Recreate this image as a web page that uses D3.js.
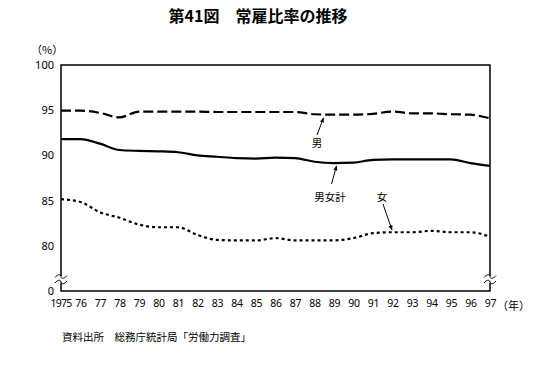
<!DOCTYPE html>
<html>
<head>
<meta charset="utf-8">
<script src="https://cdn.jsdelivr.net/npm/d3@7"></script>
<style>
  html, body { margin: 0; padding: 0; background: #fff; }
  svg { display: block; }
  text { font-family: "Noto Sans CJK JP", "Noto Sans", sans-serif; fill: #000; }
</style>
</head>
<body>
<svg id="chart" width="555" height="370"></svg>
<script>
const years = [1975,1976,1977,1978,1979,1980,1981,1982,1983,1984,1985,1986,1987,1988,1989,1990,1991,1992,1993,1994,1995,1996,1997];
const male   = [94.95,94.95,94.7,94.2,94.85,94.85,94.85,94.85,94.8,94.8,94.8,94.8,94.8,94.55,94.5,94.5,94.6,94.85,94.65,94.65,94.55,94.5,94.1];
const total  = [91.8,91.8,91.3,90.6,90.5,90.45,90.35,90.0,89.85,89.7,89.65,89.75,89.7,89.3,89.15,89.2,89.5,89.55,89.55,89.55,89.55,89.15,88.85];
const female = [85.15,84.85,83.7,83.1,82.35,82.05,82.05,81.2,80.65,80.6,80.6,80.85,80.6,80.6,80.6,80.85,81.4,81.5,81.5,81.65,81.5,81.5,81.0];
const yTicks = [75,80,85,90,95,100];
const yTickLabels = ["0","80","85","90","95","100"];
const seriesNames = ["男","男女計","女"];

const svg = d3.select("#chart");
const L = 61, R = 490, T = 65, B = 291;

const x = d3.scaleLinear().domain([1975,1997]).range([L,R]);
const y = d3.scaleLinear().domain([75,100]).range([B,T]);

// title
svg.append("text").attr("x",258).attr("y",22).attr("text-anchor","middle")
  .style("font-size","16px").style("font-weight","bold").text("第41図　常雇比率の推移");

svg.append("text").attr("x",31).attr("y",54).style("font-size","11px").text("（%）");

// axes
const yAxis = d3.axisLeft(y).tickValues(yTicks).tickSize(0).tickPadding(7)
  .tickFormat((d,i)=>yTickLabels[i]);
const gy = svg.append("g").attr("transform",`translate(${L},0)`).call(yAxis);
gy.select(".domain").remove();
gy.selectAll("text").style("font-size","11px").style("font-family","'Noto Sans', sans-serif");

const xAxis = d3.axisBottom(x).tickValues(years).tickSize(0).tickPadding(9)
  .tickFormat(d => d===1975 ? "1975" : String(d).slice(2));
const gx = svg.append("g").attr("transform",`translate(0,${B})`).call(xAxis);
gx.select(".domain").remove();
gx.selectAll("text").style("font-size","10.5px").style("font-family","'Noto Sans', sans-serif")
  .style("letter-spacing","-0.3px");
gx.selectAll(".tick").filter(d=>d===1975).select("text").attr("dx",-0.5).style("letter-spacing","-0.7px");

svg.append("text").attr("x",497).attr("y",310).style("font-size","11px").text("（年）");

// frame
svg.append("rect").attr("x",L).attr("y",T).attr("width",R-L).attr("height",B-T)
  .attr("fill","none").attr("stroke","#000").attr("stroke-width",1.5);

// lines
const line = d3.line().x((d,i)=>x(years[i])).y(d=>y(d)).curve(d3.curveMonotoneX);
svg.append("path").datum(male).attr("d",line).attr("fill","none").attr("stroke","#000")
  .attr("stroke-width",2.2).attr("stroke-dasharray","10,4");
svg.append("path").datum(total).attr("d",line).attr("fill","none").attr("stroke","#000")
  .attr("stroke-width",2.2);
svg.append("path").datum(female).attr("d",line).attr("fill","none").attr("stroke","#000")
  .attr("stroke-width",2.2).attr("stroke-dasharray","3,3");

// axis breaks
[L,R].forEach(ax=>{
  svg.append("rect").attr("x",ax-2).attr("y",276).attr("width",4).attr("height",7).attr("fill","#fff");
  [276.5,282].forEach(yy=>{
    svg.append("path")
      .attr("d",`M${ax-6},${yy+1} C${ax-3},${yy-3} ${ax},${yy-2} ${ax},${yy} S${ax+3},${yy+3} ${ax+6},${yy-1}`)
      .attr("fill","none").attr("stroke","#000").attr("stroke-width",1);
  });
});

// annotations
const defs = svg.append("defs");
defs.append("marker").attr("id","ah").attr("viewBox","0 0 10 10").attr("refX",9).attr("refY",5)
  .attr("markerWidth",5).attr("markerHeight",6).attr("orient","auto")
  .append("path").attr("d","M0,1 L10,5 L0,9 Z").attr("fill","#000");

const ann = [
  {t:seriesNames[0], tx:317, ty:147, x1:317, y1:135, x2:323.5, y2:118},
  {t:seriesNames[1], tx:330, ty:201, x1:331.5, y1:184, x2:336.5, y2:166},
  {t:seriesNames[2], tx:382, ty:201, x1:383, y1:204, x2:392, y2:230}
];
ann.forEach(a=>{
  svg.append("line").attr("x1",a.x1).attr("y1",a.y1).attr("x2",a.x2).attr("y2",a.y2)
    .attr("stroke","#000").attr("stroke-width",1).attr("marker-end","url(#ah)");
  svg.append("text").attr("x",a.tx).attr("y",a.ty).attr("text-anchor","middle")
    .style("font-size","10.5px").text(a.t);
});

// source
svg.append("text").attr("x",62).attr("y",341).style("font-size","10.5px")
  .text("資料出所　総務庁統計局「労働力調査」");
</script>
</body>
</html>
